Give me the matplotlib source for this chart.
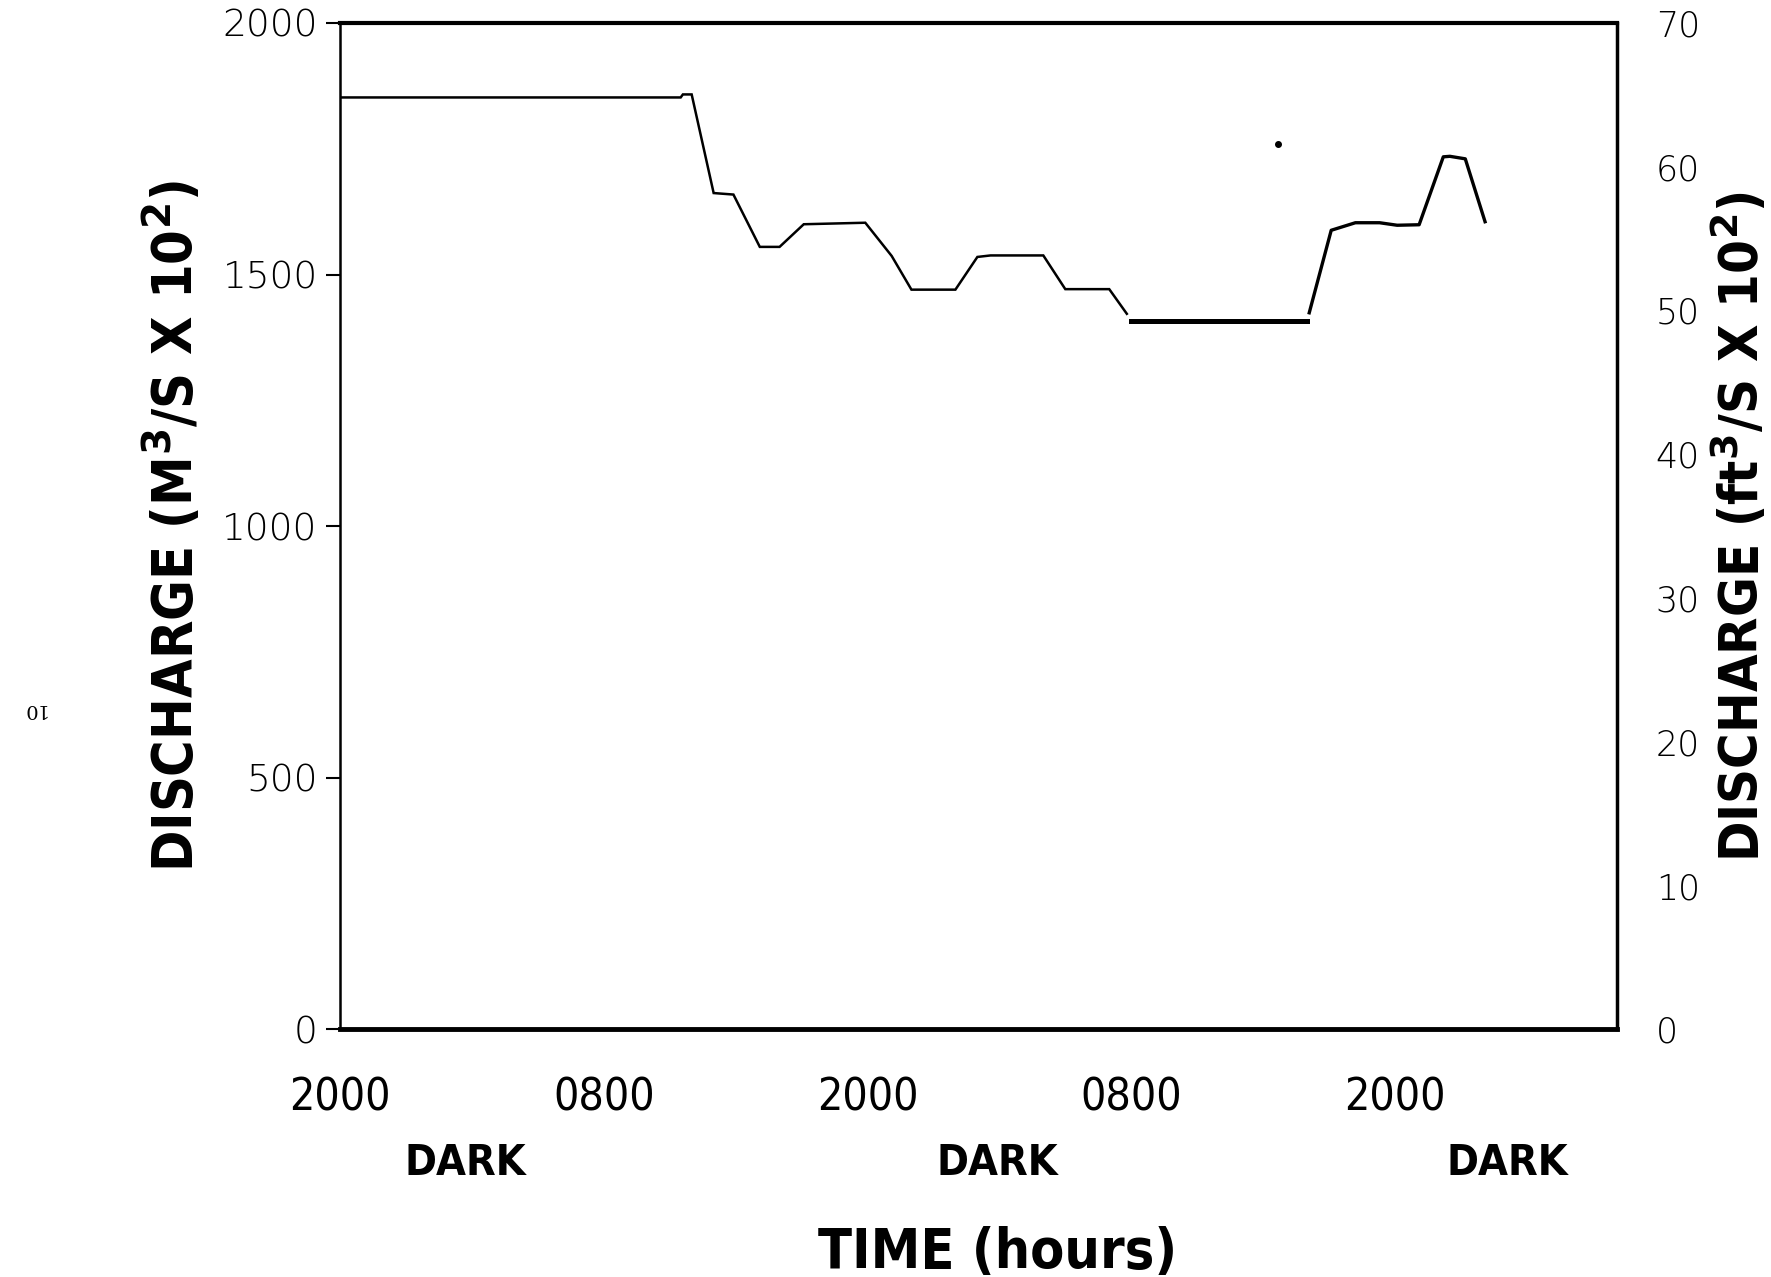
import matplotlib.pyplot as plt
from matplotlib import transforms

# hourly discharge readings (hours after 2000, m3/s x 10^2)
hours_a = [0, 15.5, 15.6, 16.0, 17.0, 17.9, 19.1, 20.0, 21.1, 23.9, 25.1, 26.0,
           28.0, 29.0, 29.6, 32.0, 33.0, 35.0, 35.8]
flow_a = [1852, 1852, 1858, 1858, 1662, 1659, 1555, 1555, 1600, 1603, 1537, 1470,
          1470, 1535, 1538, 1538, 1471, 1471, 1422]
hours_b = [36.0, 44.0]
flow_b = [1407, 1407]
hours_c = [44.1, 45.1, 46.2, 47.3, 48.1, 49.1, 50.2, 50.5, 51.2, 52.1]
flow_c = [1424, 1588, 1603, 1603, 1598, 1599, 1734, 1735, 1730, 1605]
stray_hour = [42.7]
stray_flow = [1759]

time_ticks = [0, 12, 24, 36, 48]
time_labels = ["2000", "0800", "2000", "0800", "2000"]
dark_hours = [5.7, 29.9, 53.1]
left_ticks = [0, 500, 1000, 1500, 2000]
right_ticks = [0, 10, 20, 30, 40, 50, 60, 70]

cond = dict(family="DejaVu Sans", stretch="condensed")

fig = plt.figure(figsize=(17.71, 12.77), dpi=100)
ax = fig.add_axes([0.192, 0.194, 0.721, 0.788])

ax.plot(hours_a, flow_a, color="black", lw=1.8, solid_joinstyle="miter")
ax.plot(hours_b, flow_b, color="black", lw=3.6)
ax.plot(hours_c, flow_c, color="black", lw=2.4)
ax.plot(stray_hour, stray_flow, "o", color="black", ms=4)

ax.set_xlim(0, 58.1)
ax.set_ylim(0, 2000)
ax.set_xticks(time_ticks)
ax.set_xticklabels(time_labels, fontsize=32, **cond)
ax.tick_params(axis="x", length=0, pad=34)
ax.set_yticks(left_ticks)
ax.set_yticklabels([str(v) for v in left_ticks], family="DejaVu Sans",
                   fontsize=27, fontweight="light")
ax.tick_params(axis="y", direction="out", length=10, width=1.5, pad=6)

ax.spines["top"].set_linewidth(3)
ax.spines["bottom"].set_linewidth(3.5)
ax.spines["left"].set_linewidth(1.8)
ax.spines["right"].set_linewidth(2.5)

ax.set_ylabel("DISCHARGE (M$^\\mathbf{3}$/S X 10$^\\mathbf{2}$)",
              fontweight="bold", fontsize=40, labelpad=12, **cond)

ax2 = ax.twinx()
ax2.set_ylim(0, 70)
ax2.set_yticks(right_ticks)
ax2.set_yticklabels([str(v) for v in right_ticks], family="DejaVu Sans",
                    fontsize=25, fontweight="light")
ax2.tick_params(axis="y", length=0, pad=28)
for s in ax2.spines.values():
    s.set_visible(False)
ax2.set_ylabel("DISCHARGE (ft$^\\mathbf{3}$/S X 10$^\\mathbf{2}$)",
               fontweight="bold", fontsize=39, rotation=90, labelpad=8, **cond)

trans = transforms.blended_transform_factory(ax.transData, ax.transAxes)
for h in dark_hours:
    ax.text(h, -0.133, "DARK", transform=trans, ha="center", va="center",
            fontweight="bold", fontsize=31, **cond)

fig.text(0.563, 0.007, "TIME (hours)", ha="center", va="baseline",
         fontweight="bold", fontsize=40, **cond)
fig.text(0.019, 0.445, "10", rotation=180, ha="center", va="center",
         family="DejaVu Serif", fontsize=14)

fig.savefig("out.png", dpi=100, facecolor="white")
